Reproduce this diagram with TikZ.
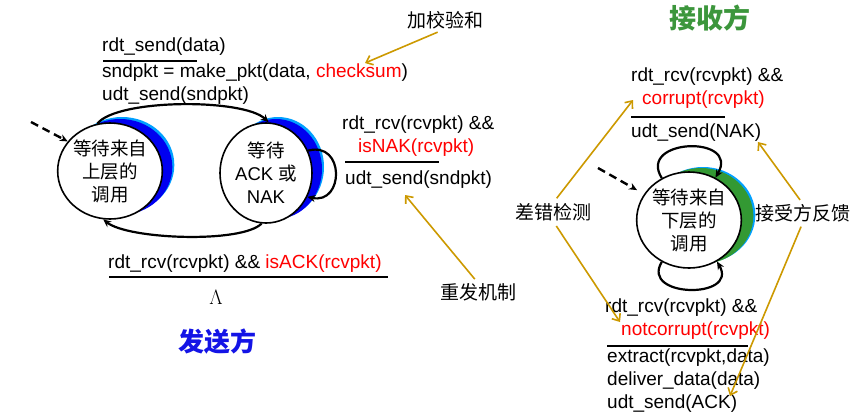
\documentclass[tikz,border=0pt]{standalone}
\usepackage{fontspec}
\setmainfont{Liberation Sans}
\newfontfamily\cjk{Noto Sans CJK SC}
\usepackage{tikz}
\usetikzlibrary{arrows.meta,shapes.geometric,shadows,positioning}
\definecolor{sdblue}{RGB}{0,0,240}
\definecolor{sdlight}{RGB}{0,160,255}
\definecolor{rcgreen}{RGB}{51,153,51}
\definecolor{titlegreen}{RGB}{60,150,60}
\definecolor{titleblue}{RGB}{20,20,230}
\definecolor{notegold}{RGB}{204,153,0}
\definecolor{evred}{RGB}{255,0,0}
\newcommand{\zh}[1]{{\cjk #1}}
\tikzstyle{state} = [ellipse, draw=black, fill=white, line width=1.6pt, inner sep=0pt, align=center, font=\fontsize{18.5}{23}\selectfont]
\tikzstyle{sendstate} = [state, general shadow={fill=sdlight, shadow xshift=12pt, shadow yshift=6pt}, general shadow={fill=sdblue, shadow xshift=10pt, shadow yshift=4pt}]
\tikzstyle{rcvstate} = [state, general shadow={fill=sdlight, shadow xshift=14pt, shadow yshift=5pt}, general shadow={fill=rcgreen, shadow xshift=12pt, shadow yshift=4pt}]
\tikzstyle{label} = [inner sep=0pt, anchor=west, align=left, font=\fontsize{19}{23}\selectfont]
\tikzstyle{note} = [inner sep=0pt, font=\cjk\fontsize{19}{23}\selectfont]
\tikzstyle{guard} = [line width=2.8pt]
\tikzstyle{trans} = [line width=2.2pt, -{Stealth[length=8pt,width=7pt]}]
\tikzstyle{init} = [line width=2.4pt, dash pattern=on 8pt off 5pt, -{Stealth[length=8pt,width=7pt]}]
\tikzstyle{hint} = [line width=1.6pt, color=notegold, -{Straight Barb[length=6pt,width=10pt]}]

\begin{document}
\begin{tikzpicture}[x=1pt,y=-1pt]
\useasboundingbox (0,0) rectangle (857,416);

% Sender
\node[sendstate, minimum width=96pt, minimum height=96pt] (wait0) at (110,171) {\zh{等待来自}\\\zh{上层的}\\\zh{调用}};
\node[sendstate, minimum width=92pt, minimum height=100pt] (wait1) at (266,173) {\zh{等待}\\ACK \zh{或}\\NAK};

\coordinate (start0) at (31,122);
\draw[init] (start0) -- (wait0.145);

\draw[trans] (wait0.105) .. controls +(20,-25) and +(-25,-24) .. (wait1.87);
\draw[trans] (wait1.265) .. controls +(-20,20) and +(25,20) .. (wait0.262);
\draw[trans] (wait1.28) .. controls +(37,-10) and +(37,8) .. (wait1.-30);

\node[label] (e1) at (102,47) {rdt\_send(data)};
\draw[guard] (103,61) -- (197,61);
\node[label] (a1) at (102,84.5) {sndpkt = make\_pkt(data, {\color{evred}checksum})\\udt\_send(sndpkt)};

\node[label] (e2) at (342,136) {rdt\_rcv(rcvpkt) \&\&\\\hspace*{16pt}{\color{evred}isNAK(rcvpkt)}};
\draw[guard] (345,162) -- (439,162);
\node[label] (a2) at (345,180) {udt\_send(sndpkt)};

\node[label] (e3) at (108,264) {rdt\_rcv(rcvpkt) \&\& {\color{evred}isACK(rcvpkt)}};
\draw[guard] (109,277) -- (388,277);
\node[inner sep=0pt, font=\fontsize{21}{24}\selectfont] (a3) at (216,297.5) {$\Lambda$};

\node[font=\cjk\fontsize{26}{30}\selectfont\bfseries, text=titleblue] (sender) at (217,342) {发送方};

% Receiver
\node[rcvstate, minimum width=88pt, minimum height=96pt] (wait2) at (689,220) {\zh{等待来自}\\\zh{下层的}\\\zh{调用}};

\coordinate (start2) at (598,168);
\draw[init, shorten >=8pt] (start2) -- (wait2.150);

\draw[trans] (wait2.123) .. controls +(-25,-40) and +(25,-43) .. (wait2.58);
\draw[trans] (wait2.237) .. controls +(-22,36) and +(22,38) .. (wait2.304);

\node[label] (e4) at (631,88.5) {rdt\_rcv(rcvpkt) \&\&\\\hspace*{11pt}{\color{evred}corrupt(rcvpkt)}};
\draw[guard] (631,117) -- (725,117);
\node[label] (a4) at (631,133) {udt\_send(NAK)};

\node[label] (e5) at (605,319) {rdt\_rcv(rcvpkt) \&\&\\\hspace*{16pt}{\color{evred}notcorrupt(rcvpkt)}};
\draw[guard] (607,346) -- (748,346);
\node[label] (a5) at (607,381) {extract(rcvpkt,data)\\deliver\_data(data)\\udt\_send(ACK)};

\node[font=\cjk\fontsize{27}{30}\selectfont\bfseries, text=titlegreen] (receiver) at (710,18) {接收方};

% Notes
\node[note] (note1) at (445,20) {加校验和};
\node[note] (note2) at (478,292) {重发机制};
\node[note] (note3) at (553,212) {差错检测};
\node[note] (note4) at (803,213) {接受方反馈};

\coordinate (cksum) at (365,63);
\coordinate (resend) at (405,195);
\coordinate (corrupt) at (633,100);
\coordinate (notcorrupt) at (620,322);
\coordinate (nak) at (758,142);
\coordinate (ack) at (730,396);

\draw[hint, shorten <=8pt] (note1.south) -- (cksum);
\draw[hint, shorten <=5pt] (note2.north) -- (resend);
\draw[hint, shorten <=6pt] (note3.north) -- (corrupt);
\draw[hint, shorten <=6pt] (note3.south) -- (notcorrupt);
\draw[hint, shorten <=5pt] (note4.north) -- (nak);
\draw[hint, shorten <=5pt] (note4.south) -- (ack);
\end{tikzpicture}
\end{document}
